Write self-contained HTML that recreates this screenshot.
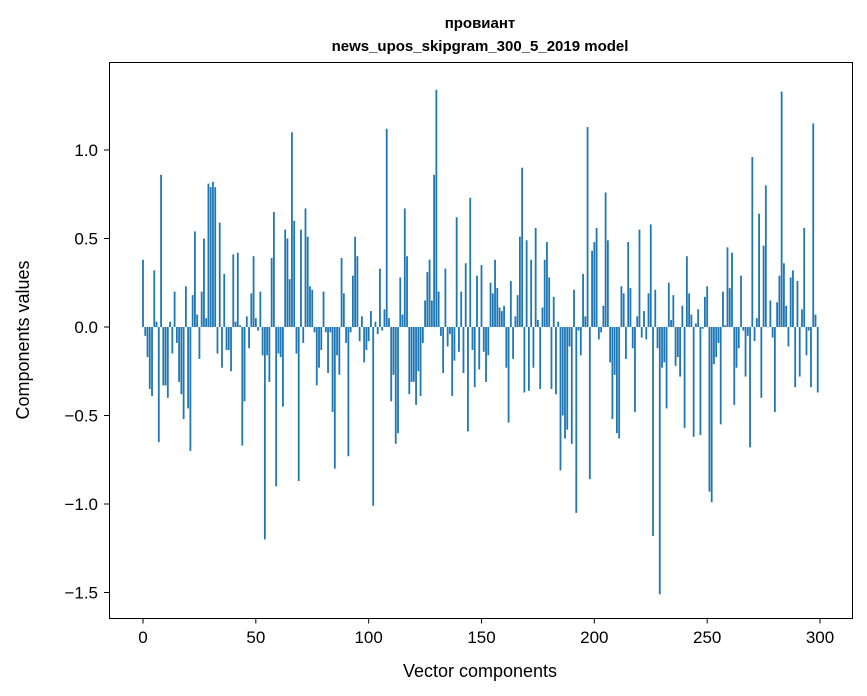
<!DOCTYPE html>
<html><head><meta charset="utf-8"><style>
html,body{margin:0;padding:0;background:#fff;}
svg{display:block;font-family:"Liberation Sans","DejaVu Sans",sans-serif;}
</style></head>
<body>
<svg id="chart" width="867" height="696" viewBox="0 0 867 696" xmlns="http://www.w3.org/2000/svg">
<rect width="867" height="696" fill="#fff"/>
<text x="480" y="28" text-anchor="middle" font-size="15" font-weight="bold" font-family="Liberation Sans, DejaVu Sans, sans-serif">провиант</text>
<text x="480" y="51" text-anchor="middle" font-size="15" font-weight="bold">news_upos_skipgram_300_5_2019 model</text>
<g id="bars"></g>
<rect x="109.5" y="62.5" width="743" height="556" fill="none" stroke="#000" stroke-width="1"/>
<g id="xticks"></g>
<g id="yticks"></g>
<text x="480" y="677" text-anchor="middle" font-size="18">Vector components</text>
<text transform="translate(29,340) rotate(-90)" text-anchor="middle" font-size="18">Components values</text>
</svg>
<script>
const values = [
0.38,-0.05,-0.17,-0.35,-0.39,0.32,0.03,-0.65,0.86,-0.33,
-0.33,-0.40,0.03,-0.15,0.20,-0.09,-0.31,-0.38,-0.52,0.23,
-0.46,-0.70,0.18,0.54,0.07,-0.18,0.20,0.50,0.05,0.81,
0.79,0.82,0.79,-0.15,0.59,-0.23,0.30,-0.13,-0.13,-0.25,
0.41,0.03,0.42,0.01,-0.67,-0.42,0.06,-0.12,0.19,0.40,
0.05,-0.02,0.20,-0.16,-1.20,-0.16,-0.31,0.39,0.65,-0.90,
-0.15,-0.17,-0.45,0.55,0.50,0.27,1.10,0.60,-0.15,-0.87,
0.55,-0.09,0.67,0.51,0.23,0.21,-0.03,-0.33,-0.23,-0.13,
0.20,-0.03,-0.26,-0.03,-0.48,-0.80,-0.16,-0.27,0.39,0.19,
-0.09,-0.73,-0.03,0.29,0.51,0.40,-0.08,0.06,-0.20,-0.13,
-0.08,0.09,-1.01,0.03,-0.04,0.33,-0.02,0.10,1.12,0.05,
-0.42,-0.27,-0.66,-0.60,0.28,0.07,0.67,0.40,-0.38,-0.31,
-0.31,-0.44,-0.25,-0.39,-0.09,0.15,0.31,0.38,0.15,0.86,
1.34,0.20,-0.05,-0.26,0.33,-0.11,-0.04,-0.39,-0.19,0.62,
-0.14,0.20,-0.26,0.36,-0.59,0.73,-0.13,-0.34,0.29,-0.24,
0.35,-0.14,-0.31,-0.16,0.25,0.19,0.38,0.22,0.11,0.09,
0.12,-0.23,-0.54,0.26,-0.18,0.06,0.18,0.51,0.90,-0.37,
0.49,-0.36,0.38,-0.23,0.56,0.04,-0.35,0.11,0.38,0.48,
0.28,-0.35,0.17,-0.38,0.03,-0.81,-0.50,-0.63,-0.58,-0.11,
-0.66,0.21,-1.05,-0.02,-0.16,0.30,0.06,1.13,-0.86,0.43,
0.48,0.56,-0.07,-0.03,0.12,0.76,0.49,-0.20,-0.52,-0.27,
-0.60,-0.63,0.23,0.19,-0.18,0.48,0.22,-0.12,-0.48,0.06,
0.55,-0.06,0.09,-0.07,0.19,0.58,-1.18,0.21,-0.12,-1.51,
-0.23,-0.20,-0.46,0.25,0.04,0.18,-0.22,-0.17,-0.28,0.12,
-0.57,0.40,0.19,0.07,-0.62,0.02,0.10,-0.61,-0.01,0.17,
0.23,-0.93,-0.99,-0.21,-0.17,-0.09,-0.55,0.20,0.01,0.45,
0.22,0.42,-0.44,-0.23,-0.12,0.29,-0.02,-0.28,-0.05,-0.68,
0.96,-0.08,0.05,0.64,-0.40,0.46,0.80,0.00,0.15,-0.06,
-0.48,0.14,0.29,1.33,0.36,0.12,-0.11,0.28,0.32,-0.34,
0.26,-0.28,0.10,0.56,-0.16,-0.02,-0.34,1.15,0.07,-0.37
];
const xTicks = [0,50,100,150,200,250,300];
const yTicks = [-1.5,-1.0,-0.5,0.0,0.5,1.0];
const yTickLabels = ["\u22121.5","\u22121.0","\u22120.5","0.0","0.5","1.0"];

const NS = "http://www.w3.org/2000/svg";
function xScale(v){ return 143 + v * 2.2567; }
function yScale(v){ return 327 - v * 177; }
const bw = 0.8 * 2.2567;
const gb = document.getElementById('bars');
values.forEach(function(v,i){
  const r = document.createElementNS(NS,'rect');
  const y0 = yScale(0), y1 = yScale(v);
  r.setAttribute('x', xScale(i) - bw/2);
  r.setAttribute('y', Math.min(y0,y1));
  r.setAttribute('width', bw);
  r.setAttribute('height', Math.max(Math.abs(y1-y0),0.3));
  r.setAttribute('fill', '#1f77b4');
  
  
  gb.appendChild(r);
});
const gx = document.getElementById('xticks');
xTicks.forEach(function(t){
  const x = xScale(t);
  const l = document.createElementNS(NS,'line');
  l.setAttribute('x1',x); l.setAttribute('x2',x);
  l.setAttribute('y1',618.5); l.setAttribute('y2',623.5);
  l.setAttribute('stroke','#000');
  
  
  gx.appendChild(l);
  const tx = document.createElementNS(NS,'text');
  tx.setAttribute('x',x); tx.setAttribute('y',643);
  tx.setAttribute('text-anchor','middle'); tx.setAttribute('font-size','17');
  tx.textContent = String(t);
  
  
  gx.appendChild(tx);
});
const gy = document.getElementById('yticks');
yTicks.forEach(function(t,k){
  const y = yScale(t);
  const l = document.createElementNS(NS,'line');
  l.setAttribute('x1',104); l.setAttribute('x2',109.5);
  l.setAttribute('y1',y); l.setAttribute('y2',y);
  l.setAttribute('stroke','#000');
  
  
  gy.appendChild(l);
  const tx = document.createElementNS(NS,'text');
  tx.setAttribute('x',98); tx.setAttribute('y',y+6);
  tx.setAttribute('text-anchor','end'); tx.setAttribute('font-size','17');
  tx.textContent = yTickLabels[k];
  
  
  gy.appendChild(tx);
});
</script>
</body></html>
